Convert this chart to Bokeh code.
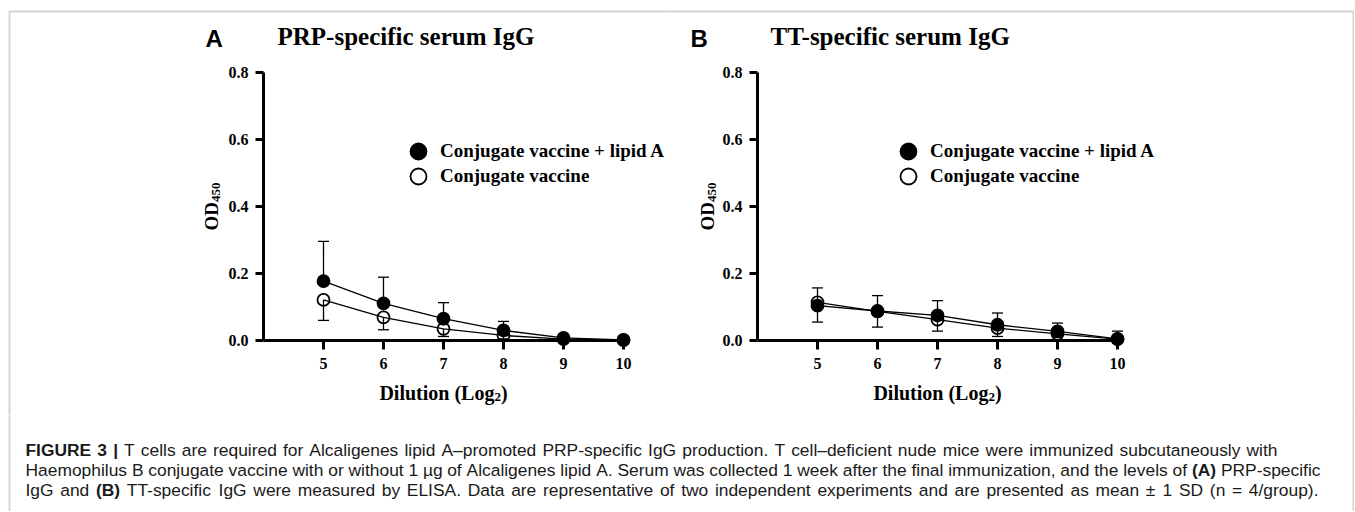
import math
from bokeh.plotting import figure
from bokeh.models import (Range1d, LinearAxis, FixedTicker, NumeralTickFormatter, Label,
                          Legend, LegendItem, Whisker, TeeHead, ColumnDataSource, BoxAnnotation)
from bokeh.layouts import column, row
from bokeh.embed import file_html
from bokeh.resources import INLINE

# ---------------- data ----------------
dilution_log2 = [5, 6, 7, 8, 9, 10]
x_ticks = [5, 6, 7, 8, 9, 10]
y_ticks = [0.0, 0.2, 0.4, 0.6, 0.8]

prp_lipid_mean = [0.177, 0.111, 0.065, 0.030, 0.008, 0.002]
prp_lipid_sd = [0.119, 0.078, 0.048, 0.027, 0.005, 0.002]
prp_conj_mean = [0.121, 0.069, 0.035, 0.015, 0.004, 0.001]
prp_conj_sd = [0.061, 0.037, 0.023, 0.010, 0.003, 0.001]

tt_lipid_mean = [0.104, 0.088, 0.075, 0.047, 0.027, 0.005]
tt_lipid_sd = [0.053, 0.046, 0.044, 0.035, 0.025, 0.023]
tt_conj_mean = [0.114, 0.087, 0.062, 0.037, 0.020, 0.004]
tt_conj_sd = [0.059, 0.047, 0.034, 0.025, 0.010, 0.004]

series_labels = ["Conjugate vaccine + lipid A", "Conjugate vaccine"]
panel_letters = ["A", "B"]
panel_titles = ["PRP-specific serum IgG", "TT-specific serum IgG"]
y_label_parts = ["OD", "450"]
x_label_parts = ["Dilution (Log", "2", ")"]

caption_lines = [
    [("FIGURE 3 |", True),
     (" T cells are required for Alcaligenes lipid A\u2013promoted PRP-specific IgG production. "
      "T cell\u2013deficient nude mice were immunized subcutaneously with", False)],
    [("Haemophilus B conjugate vaccine with or without 1 \u00b5g of Alcaligenes lipid A. Serum was "
      "collected 1 week after the final immunization, and the levels of ", False),
     ("(A)", True), (" PRP-specific", False)],
    [("IgG and ", False), ("(B)", True),
     (" TT-specific IgG were measured by ELISA. Data are representative of two independent "
      "experiments and are presented as mean \u00b1 1 SD (n = 4/group).", False)],
]

# ---------------- font metrics (per 1000 em) for layout ----------------
TIMES_BOLD = {'D': 722, 'i': 278, 'l': 278, 'u': 556, 't': 333, 'o': 500, 'n': 556, ' ': 250,
              '(': 333, 'L': 667, 'g': 500, ')': 333, '2': 500, 'O': 778, '0': 500, '.': 250,
              '8': 500}
HELV = {' ': 278, 'a': 556, 'b': 556, 'c': 500, 'd': 556, 'e': 556, 'f': 278, 'g': 556, 'h': 556,
        'i': 222, 'j': 222, 'k': 500, 'l': 222, 'm': 833, 'n': 556, 'o': 556, 'p': 556, 'q': 556,
        'r': 333, 's': 500, 't': 278, 'u': 556, 'v': 500, 'w': 722, 'x': 500, 'y': 500, 'z': 500,
        'A': 667, 'B': 667, 'C': 722, 'D': 722, 'E': 667, 'F': 611, 'G': 778, 'H': 722, 'I': 278,
        'J': 500, 'K': 667, 'L': 556, 'M': 833, 'N': 722, 'O': 778, 'P': 667, 'Q': 778, 'R': 722,
        'S': 667, 'T': 611, 'U': 722, 'V': 667, 'W': 944, 'X': 667, 'Y': 667, 'Z': 611,
        '0': 556, '1': 556, '2': 556, '3': 556, '4': 556, '5': 556, '6': 556, '7': 556, '8': 556,
        '9': 556, '.': 278, ',': 278, '-': 333, '\u2013': 556, '(': 333, ')': 333, '|': 260,
        '/': 278, '=': 584, '\u00b1': 584, '\u00b5': 556, '+': 584}
HELV_B = dict(HELV)
HELV_B.update({'|': 280, 'A': 722, 'B': 722})


def text_w(s, size, table):
    return sum(table.get(c, 556) for c in s) * size / 1000.0


# ---------------- layout (page pixel frame) ----------------
TOP_H = 415
CAP_H = 96
W_A, W_B = 670, 684
PX_X = 60.0      # px per log2 unit
PX_Y = 335.0     # px per OD unit
Y0_REF = 340.0   # page y of OD = 0
SERIF = "Liberation Serif"
SANS = "Liberation Sans"
BORDER = "#707070"
TICK_FS = 16


def make_panel(origin_x, width, axis_x, letter, title, l_mean, l_sd, c_mean, c_sd,
               letter_x, title_x, ylab_x, legend_cx, border_box):
    # the frame covers the whole canvas; axes sit at fixed data locations inside it
    fl, fr = origin_x, origin_x + width
    ft, fb = 0, TOP_H

    def X(rx):
        return 4 + (rx - axis_x) / PX_X

    def Y(ry):
        return (Y0_REF - ry) / PX_Y

    def lab(rx, ry, text, font, size, bold=True, angle=0.0):
        p.add_layout(Label(x=rx - origin_x, y=ry, x_units="canvas", y_units="canvas",
                           text=text, angle=angle, text_font=font,
                           text_font_style="bold" if bold else "normal",
                           text_font_size=f"{size}px", text_color="black",
                           text_baseline="middle", text_align="left"))

    p = figure(width=width, height=TOP_H, x_range=Range1d(X(fl), X(fr)),
               y_range=Range1d(Y(fb), Y(ft)), x_axis_type=None, y_axis_type=None,
               output_backend="svg", toolbar_location=None, min_border=0)
    p.outline_line_color = None
    p.background_fill_color = "white"
    p.border_fill_color = "white"

    # x axis: ticks point down from y = 0, labels below
    xa = LinearAxis(fixed_location=0, bounds=(4, 10), ticker=FixedTicker(ticks=x_ticks),
                    axis_line_width=3, axis_line_color="black", major_tick_line_width=3,
                    major_tick_line_color="black", major_tick_out=0, major_tick_in=9,
                    minor_tick_out=0, minor_tick_in=0, major_label_standoff=-28,
                    major_label_text_font=SERIF, major_label_text_font_style="bold",
                    major_label_text_font_size=f"{TICK_FS}px", major_label_text_color="black")
    p.add_layout(xa, "above")
    # y axis: ticks point left from x = 4, labels left of them
    lw = text_w("0.8", TICK_FS, TIMES_BOLD)
    ya = LinearAxis(fixed_location=4, bounds=(0, 0.8), ticker=FixedTicker(ticks=y_ticks),
                    formatter=NumeralTickFormatter(format="0.0"),
                    axis_line_width=3, axis_line_color="black", major_tick_line_width=3,
                    major_tick_line_color="black", major_tick_out=0, major_tick_in=8,
                    minor_tick_out=0, minor_tick_in=0, major_label_standoff=-int(round(15 + lw)),
                    major_label_text_font=SERIF, major_label_text_font_style="bold",
                    major_label_text_font_size=f"{TICK_FS}px", major_label_text_color="black")
    p.add_layout(ya, "right")

    # error bars
    up_src = ColumnDataSource(dict(base=dilution_log2, lower=l_mean,
                                   upper=[m + s for m, s in zip(l_mean, l_sd)]))
    lo_src = ColumnDataSource(dict(base=dilution_log2, upper=c_mean,
                                   lower=[m - s for m, s in zip(c_mean, c_sd)]))
    p.add_layout(Whisker(source=up_src, base="base", lower="lower", upper="upper",
                         dimension="height", line_color="black", line_width=1.3,
                         upper_head=TeeHead(size=11, line_width=1.3, line_color="black"),
                         lower_head=None))
    p.add_layout(Whisker(source=lo_src, base="base", lower="lower", upper="upper",
                         dimension="height", line_color="black", line_width=1.3,
                         lower_head=TeeHead(size=11, line_width=1.3, line_color="black"),
                         upper_head=None))

    p.line(dilution_log2, c_mean, line_color="black", line_width=1.3)
    p.line(dilution_log2, l_mean, line_color="black", line_width=1.3)
    r_c = p.scatter(dilution_log2, c_mean, marker="circle", size=12, fill_color=None,
                    line_color="black", line_width=1.8)
    r_l = p.scatter(dilution_log2, l_mean, marker="circle", size=12, fill_color="black",
                    line_color="black", line_width=1.8)

    # legend: one Legend per entry, 40 px glyph box -> 16 px marker
    for label, rend, cy in ((series_labels[0], r_l, 151), (series_labels[1], r_c, 176)):
        p.add_layout(Legend(items=[LegendItem(label=label, renderers=[rend])],
                            location=(legend_cx - 20 - fl, fb - (cy + 20)),
                            glyph_width=40, glyph_height=40, padding=0, margin=0,
                            label_standoff=2, border_line_color=None, background_fill_alpha=0,
                            label_text_font=SERIF, label_text_font_style="bold",
                            label_text_font_size="19px", label_text_color="black"))

    # panel letter and title (y = visual centre)
    lab(letter_x, 38, letter, SANS, 24)
    lab(title_x, 36, title, SERIF, 25)

    # y label OD450 (rotated)
    fs, fs_sub = 19, 13
    od_bottom = 230
    lab(ylab_x, od_bottom, y_label_parts[0], SERIF, fs, angle=math.pi / 2)
    lab(ylab_x + 4, od_bottom - text_w(y_label_parts[0], fs, TIMES_BOLD), y_label_parts[1],
        SERIF, fs_sub, angle=math.pi / 2)

    # x label Dilution (Log2)
    fs = 20
    w0 = text_w(x_label_parts[0], fs, TIMES_BOLD)
    w1 = text_w(x_label_parts[1], fs_sub, TIMES_BOLD)
    w2 = text_w(x_label_parts[2], fs, TIMES_BOLD)
    cx = axis_x + 3 * PX_X
    sx = cx - (w0 + w1 + w2) / 2
    mid = 392
    lab(sx, mid, x_label_parts[0], SERIF, fs)
    lab(sx + w0, mid + 4, x_label_parts[1], SERIF, fs_sub)
    lab(sx + w0 + w1, mid, x_label_parts[2], SERIF, fs)

    # border of the whole figure (canvas units)
    l, r = border_box
    p.add_layout(BoxAnnotation(left=l - origin_x, right=r - origin_x, top=11, bottom=TOP_H + 300,
                               left_units="canvas", right_units="canvas",
                               top_units="canvas", bottom_units="canvas",
                               fill_alpha=0, line_color=BORDER, line_width=2))
    return p


pA = make_panel(0, W_A, 263, panel_letters[0], panel_titles[0],
                prp_lipid_mean, prp_lipid_sd, prp_conj_mean, prp_conj_sd,
                letter_x=205, title_x=277, ylab_x=211, legend_cx=418, border_box=(9, 3000))
pB = make_panel(W_A, W_B, 757, panel_letters[1], panel_titles[1],
                tt_lipid_mean, tt_lipid_sd, tt_conj_mean, tt_conj_sd,
                letter_x=690, title_x=770, ylab_x=707, legend_cx=908,
                border_box=(-2000, W_A + W_B - 1))

# ---------------- caption ----------------
pc = figure(width=W_A + W_B, height=CAP_H, x_range=Range1d(0, W_A + W_B),
            y_range=Range1d(TOP_H + CAP_H, TOP_H), x_axis_type=None, y_axis_type=None,
            output_backend="svg", toolbar_location=None, min_border=0)
pc.outline_line_color = None
pc.add_layout(BoxAnnotation(left=9, right=W_A + W_B - 1, top=TOP_H - 300, bottom=TOP_H + 500,
                            fill_alpha=0, line_color=BORDER, line_width=2))

cap_left = 25
line_ends = [1277, 1320, 1318]
line_mids = [449, 469, 489]


def words_of(segs):
    out = []
    prev_space = True
    for t, bold in segs:
        for k, w in enumerate(t.split(" ")):
            if w == "":
                continue
            glue = (k == 0 and out != [] and not prev_space)
            out.append((w, bold, glue))
        prev_space = t.endswith(" ")
    return out


# font size from the natural width of the middle line
nat = sum(text_w(t, 1.0, HELV_B if b else HELV) for t, b in caption_lines[1])
cap_fs = (line_ends[1] - cap_left) / nat

for segs, mid, end in zip(caption_lines, line_mids, line_ends):
    words = words_of(segs)
    widths = [text_w(w, cap_fs, HELV_B if b else HELV) for w, b, g in words]
    n_gaps = sum(1 for w in words[1:] if not w[2])
    space = text_w(" ", cap_fs, HELV)
    extra = (end - cap_left - sum(widths) - n_gaps * space) / max(n_gaps, 1)
    xcur = cap_left
    for i, ((w, bold, glue), wd) in enumerate(zip(words, widths)):
        if i > 0 and not glue:
            xcur += space + extra
        pc.add_layout(Label(x=xcur, y=mid, text=w, text_font=SANS,
                            text_font_style="bold" if bold else "normal",
                            text_font_size=f"{cap_fs:.2f}px", text_color="#1a1a1a",
                            text_baseline="middle", text_align="left"))
        xcur += wd

layout = column(row(pA, pB), pc)
open("out.html", "w").write(file_html(layout, INLINE))
